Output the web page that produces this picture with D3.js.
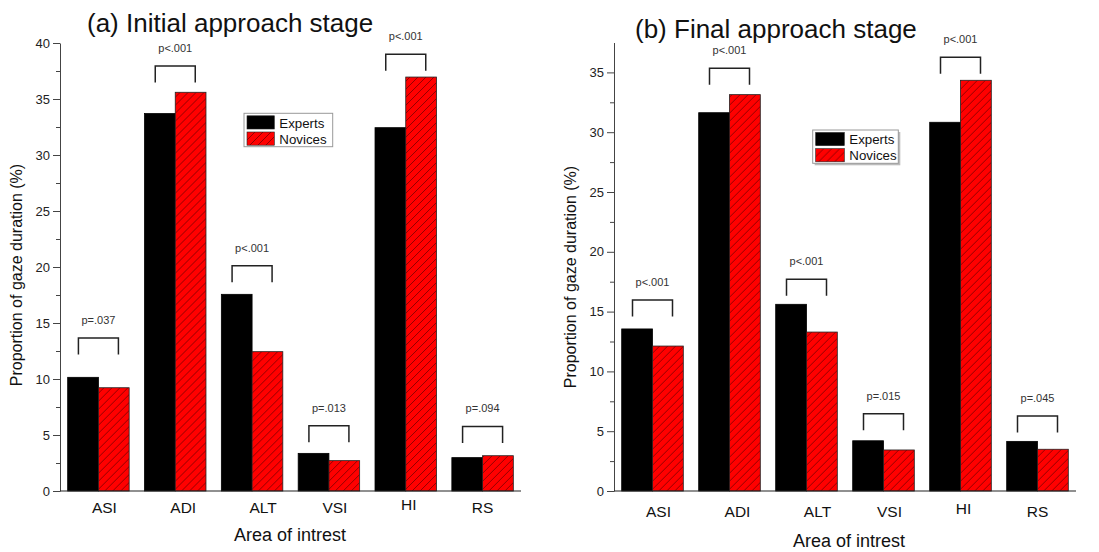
<!DOCTYPE html>
<head>
  <meta charset="utf-8">
  <script src="https://d3js.org/d3.v7.min.js"></script>
  <style>
    body { margin: 0; background: #fff; }
    svg { font-family: "Liberation Sans", Arial, sans-serif; }
    .yaxis path, .yaxis line { stroke: #444; }
    .yaxis text { fill: #222; font-size: 13px; }
    .xline { stroke: #222; stroke-width: 1.2px; }
    .bracket { fill: none; stroke: #222; stroke-width: 1.5px; }
    .plabel { fill: #333; font-size: 11px; text-anchor: middle; }
    .cat { fill: #111; font-size: 15.5px; text-anchor: middle; }
  </style>
</head>
<body>
<svg id="chart" width="1099" height="552"></svg>
<script>

var categories = ["ASI", "ADI", "ALT", "VSI", "HI", "RS"];
var series = ["Experts", "Novices"];

var initialExperts = [10.15, 33.7, 17.56, 3.36, 32.44, 2.98];
var initialNovices = [9.22, 35.6, 12.44, 2.71, 36.96, 3.15];
var initialP = ["p=.037", "p<.001", "p<.001", "p=.013", "p<.001", "p=.094"];
var initialPLevel = [13.66, 37.95, 20.12, 5.83, 39.0, 5.77];
var initialTicks = [0, 5, 10, 15, 20, 25, 30, 35, 40];

var finalExperts = [13.55, 31.63, 15.61, 4.2, 30.83, 4.15];
var finalNovices = [12.12, 33.14, 13.29, 3.43, 34.34, 3.49];
var finalP = ["p<.001", "p<.001", "p<.001", "p=.015", "p<.001", "p=.045"];
var finalPLevel = [15.97, 35.34, 17.7, 6.46, 36.26, 6.27];
var finalTicks = [0, 5, 10, 15, 20, 25, 30, 35];

// category labels in the original sit a little off the group centres
var labelNudge = [[6, 0], [8, 0], [11, 0], [6, 0], [3, -3], [0, 0]];

var svg = d3.select("#chart");

var defs = svg.append("defs");
var pat = defs.append("pattern")
    .attr("id", "hatch")
    .attr("patternUnits", "userSpaceOnUse")
    .attr("width", 8)
    .attr("height", 8);
pat.append("rect").attr("width", 8).attr("height", 8).attr("fill", "#ff0000");
pat.append("path")
    .attr("d", "M0,8L8,0M-1,1L1,-1M7,9L9,7")
    .attr("stroke", "#4a0000")
    .attr("stroke-width", 0.6);

var panels = [
  {
    title: "(a) Initial approach stage", experts: initialExperts, novices: initialNovices,
    p: initialP, pLevel: initialPLevel, ticks: initialTicks, ymax: 40,
    left: 60, right: 521, top: 43, bottom: 491,
    titleX: 87, titleY: 31.5, yLabelX: 22, yLabelY: 275,
    xLabelX: 290, xLabelY: 541, catY: 512.5,
    legend: {x: 244, y: 113.3, w: 88.7, h: 33.4, sw: 27.3, shadow: false}
  },
  {
    title: "(b) Final approach stage", experts: finalExperts, novices: finalNovices,
    p: finalP, pLevel: finalPLevel, ticks: finalTicks, ymax: 37.5,
    left: 614, right: 1076, top: 42.5, bottom: 491,
    titleX: 635, titleY: 37.5, yLabelX: 576, yLabelY: 277,
    xLabelX: 849, xLabelY: 546.5, catY: 516.5,
    legend: {x: 812.7, y: 130, w: 85.6, h: 33.3, sw: 28.6, shadow: true}
  }
];

panels.forEach(drawPanel);

function drawPanel(cfg) {
  var g = svg.append("g");

  var x0 = d3.scaleBand()
      .domain(categories)
      .range([cfg.left, cfg.right])
      .paddingInner(0.2)
      .paddingOuter(0.1);

  var x1 = d3.scaleBand()
      .domain(series)
      .range([0, x0.bandwidth()]);

  var y = d3.scaleLinear()
      .domain([0, cfg.ymax])
      .range([cfg.bottom, cfg.top]);

  var rows = categories.map(function(c, i) {
    return {cat: c, i: i, values: [cfg.experts[i], cfg.novices[i]]};
  });

  // bars
  var grp = g.selectAll("g.grp")
    .data(rows)
    .enter().append("g")
      .attr("class", "grp")
      .attr("transform", function(d) { return "translate(" + x0(d.cat) + ",0)"; });

  grp.selectAll("rect")
    .data(function(d) { return d.values.map(function(v, k) { return {s: series[k], v: v}; }); })
    .enter().append("rect")
      .attr("x", function(d) { return x1(d.s); })
      .attr("y", function(d) { return y(d.v); })
      .attr("width", x1.bandwidth())
      .attr("height", function(d) { return y(0) - y(d.v); })
      .attr("fill", function(d) { return d.s == "Experts" ? "#000" : "url(#hatch)"; })
      .attr("stroke", function(d) { return d.s == "Experts" ? "#000" : "#222"; })
      .attr("stroke-width", 0.8);

  // y axis
  var minor = d3.range(2.5, cfg.ymax, 5);
  g.append("g")
      .attr("transform", "translate(" + cfg.left + ",0)")
      .attr("class", "yaxis")
      .call(d3.axisLeft(y).tickValues(minor).tickSize(4).tickFormat(""))
      .call(function(s) { s.select(".domain").remove(); });

  g.append("g")
      .attr("class", "yaxis")
      .attr("transform", "translate(" + cfg.left + ",0)")
      .call(d3.axisLeft(y).tickValues(cfg.ticks).tickSize(7).tickSizeOuter(0).tickPadding(3).tickFormat(d3.format("d")));

  // x axis line, no ticks
  g.append("line")
      .attr("class", "xline")
      .attr("x1", cfg.left).attr("x2", cfg.right)
      .attr("y1", y(0)).attr("y2", y(0));

  g.selectAll("text.cat")
    .data(rows)
    .enter().append("text")
      .attr("class", "cat")
      .attr("x", function(d) { return x0(d.cat) + x0.bandwidth() / 2 + labelNudge[d.i][0]; })
      .attr("y", function(d) { return cfg.catY + labelNudge[d.i][1]; })
      .text(function(d) { return d.cat; });

  // significance brackets
  var half = 20, leg = 16.5;
  g.selectAll("path.bracket")
    .data(rows)
    .enter().append("path")
      .attr("class", "bracket")
      .attr("d", function(d) {
        var cx = x0(d.cat) + x0.bandwidth() / 2, by = y(cfg.pLevel[d.i]);
        return "M" + (cx - half) + "," + (by + leg) + "V" + by + "H" + (cx + half) + "V" + (by + leg);
      });

  g.selectAll("text.plabel")
    .data(rows)
    .enter().append("text")
      .attr("class", "plabel")
      .attr("x", function(d) { return x0(d.cat) + x0.bandwidth() / 2; })
      .attr("y", function(d) { return y(cfg.pLevel[d.i]) - 14; })
      .text(function(d) { return cfg.p[d.i]; });

  // titles
  g.append("text")
      .attr("x", cfg.titleX).attr("y", cfg.titleY)
      .attr("font-size", 26).attr("fill", "#111")
      .text(cfg.title);

  g.append("text")
      .attr("transform", "translate(" + cfg.yLabelX + "," + cfg.yLabelY + ") rotate(-90)")
      .attr("text-anchor", "middle")
      .attr("font-size", 16).attr("fill", "#111")
      .text("Proportion of gaze duration (%)");

  g.append("text")
      .attr("x", cfg.xLabelX).attr("y", cfg.xLabelY)
      .attr("text-anchor", "middle")
      .attr("font-size", 18).attr("fill", "#111")
      .text("Area of intrest");

  // legend
  var L = cfg.legend;
  var lg = g.append("g").attr("transform", "translate(" + L.x + "," + L.y + ")");
  if (L.shadow) {
    lg.append("rect").attr("x", 2).attr("y", 2).attr("width", L.w).attr("height", L.h).attr("fill", "#bbb");
  }
  lg.append("rect")
      .attr("width", L.w).attr("height", L.h)
      .attr("fill", "#fff").attr("stroke", "#999").attr("stroke-width", 1);

  var rowH = (L.h - 5) / 2;
  var item = lg.selectAll("g.item")
    .data(series)
    .enter().append("g")
      .attr("class", "item")
      .attr("transform", function(d, k) { return "translate(3," + (2.5 + k * (rowH + 2)) + ")"; });

  item.append("rect")
      .attr("width", L.sw).attr("height", rowH - 1)
      .attr("fill", function(d) { return d == "Experts" ? "#000" : "url(#hatch)"; })
      .attr("stroke", "#222").attr("stroke-width", 0.6);

  item.append("text")
      .attr("x", L.sw + 5).attr("y", rowH - 2.5)
      .attr("font-size", 13.3).attr("fill", "#111")
      .text(function(d) { return d; });
}

</script>
</body>
</html>
